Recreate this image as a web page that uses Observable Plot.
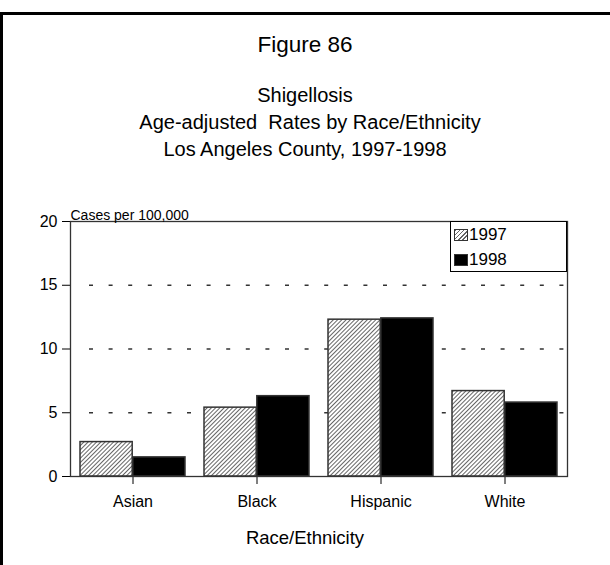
<!DOCTYPE html>
<html>
<head>
<meta charset="utf-8">
<script src="https://cdn.jsdelivr.net/npm/d3@7"></script>
<script src="https://cdn.jsdelivr.net/npm/@observablehq/plot@0.6"></script>
<style>
  html, body { margin: 0; padding: 0; background: #fff; }
  body { width: 610px; height: 565px; position: relative; overflow: hidden; font-family: "Liberation Sans", Arial, sans-serif; color: #000; }
  .frameline { position: absolute; left: 0; top: 12px; width: 800px; height: 800px; border-top: 3px solid #000; border-left: 3px solid #000; box-sizing: border-box; }
  .t { position: absolute; left: 0; width: 610px; text-align: center; white-space: pre; }
  #fig { top: 32px; font-size: 22.5px; line-height: 26px; }
  #sub { top: 82px; font-size: 20px; line-height: 27px; }
  #xtitle { top: 527px; font-size: 18.5px; line-height: 22px; }
  #chart { position: absolute; left: 0; top: 190px; }
  #legend { position: absolute; left: 450px; top: 221px; width: 117px; height: 51px; box-sizing: border-box; border: 1px solid #000; background: #fff; font-size: 17px; }
  .li { position: absolute; left: 3px; height: 19px; line-height: 19px; }
  .sw { display: inline-block; width: 14px; height: 12px; border: 1px solid #333; vertical-align: -1px; margin-right: 1px; box-sizing: border-box; }
</style>
</head>
<body>
<div class="frameline"></div>
<div class="t" id="fig">Figure 86</div>
<div class="t" id="sub">Shigellosis
  Age-adjusted  Rates by Race/Ethnicity
Los Angeles County, 1997-1998</div>
<div id="chart"></div>
<div id="legend"></div>
<div class="t" id="xtitle">Race/Ethnicity</div>
<script>
const categories = ["Asian", "Black", "Hispanic", "White"];
const years = ["1997", "1998"];
const rates1997 = [2.7, 5.4, 12.3, 6.7];
const rates1998 = [1.5, 6.3, 12.4, 5.8];
const yTicks = [0, 5, 10, 15, 20];
const gridValues = [5, 10, 15];
const yLabel = "Cases per 100,000";
const xTitle = "Race/Ethnicity";

const data1997 = categories.map((c, i) => ({category: c, year: years[0], rate: rates1997[i]}));
const data1998 = categories.map((c, i) => ({category: c, year: years[1], rate: rates1998[i]}));

const W = 610, H = 370, ML = 70, MR = 43, MT = 31, MB = 84;
const pIn = 0.15, pOut = 0.075;
const step = (W - ML - MR) / (categories.length - pIn + 2 * pOut);
const bw = step * (1 - pIn);

const chart = Plot.plot({
  width: W,
  height: H,
  marginLeft: ML,
  marginRight: MR,
  marginTop: MT,
  marginBottom: MB,
  style: {fontFamily: "Liberation Sans, Arial, sans-serif", fontSize: "16px", color: "#000", background: "transparent"},
  x: {domain: categories, paddingInner: pIn, paddingOuter: pOut, tickSize: 8, tickPadding: 11, label: null},
  y: {domain: [0, 20], ticks: yTicks, tickSize: 8, tickPadding: 5, label: null},
  marks: [
    Plot.ruleY(gridValues, {stroke: "#333", strokeWidth: 1.3, strokeDasharray: "4,15.6", insetLeft: 19}),
    Plot.barY(data1997, {x: "category", y: "rate", fill: "url(#hatch97)", stroke: "#333", strokeWidth: 1.5, insetRight: bw / 2}),
    Plot.barY(data1998, {x: "category", y: "rate", fill: "#000", stroke: "#333", strokeWidth: 1.5, insetLeft: bw / 2}),
    Plot.frame({stroke: "#333", strokeWidth: 1.3}),
    Plot.text([yLabel], {text: d => d, frameAnchor: "top-left", textAnchor: "start", dy: -11, fontSize: 14, fill: "#000"})
  ]
});

const svg = d3.select(chart);
svg.selectAll("text").each(function() {
  if (this.textContent !== yLabel) d3.select(this).style("font-size", "16px");
});
const defs = svg.insert("defs", ":first-child");
const pat = defs.append("pattern")
  .attr("id", "hatch97")
  .attr("patternUnits", "userSpaceOnUse")
  .attr("width", 3)
  .attr("height", 3)
  .attr("patternTransform", "rotate(45)");
pat.append("rect").attr("width", 3).attr("height", 3).attr("fill", "#fff");
pat.append("rect").attr("width", 1).attr("height", 3).attr("fill", "#666");

document.getElementById("chart").appendChild(chart);

// legend
const legend = document.getElementById("legend");
const swatchStyles = {
  "1997": "background: repeating-linear-gradient(135deg, #666 0 1px, #fff 1px 3px);",
  "1998": "background: #000;"
};
years.forEach((y, i) => {
  const div = document.createElement("div");
  div.className = "li";
  div.style.top = (i === 0 ? 3 : 28) + "px";
  div.innerHTML = `<span class="sw" style="${swatchStyles[y]}"></span>${y}`;
  legend.appendChild(div);
});
document.getElementById("xtitle").textContent = xTitle;
</script>
</body>
</html>
